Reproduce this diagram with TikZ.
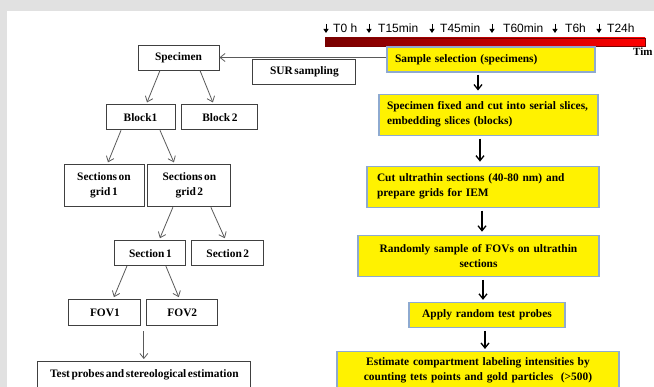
\documentclass[tikz,border=0pt]{standalone}
\usepackage{fontspec}
\setmainfont{Liberation Serif}[WordSpace=0.55]
\newfontfamily\labelfont{Liberation Sans}
\usetikzlibrary{arrows.meta,positioning,calc}
\definecolor{bggray}{HTML}{E1E1E1}
\definecolor{boxgray}{HTML}{404040}
\definecolor{linegray}{HTML}{5A5A5A}
\definecolor{boxblue}{HTML}{8EAAD0}
\definecolor{darkbar}{HTML}{780000}
\tikzset{
  tbox/.style={draw=boxgray, fill=white, line width=0.9pt, minimum height=25pt, inner sep=2pt, align=center, font=\bfseries\fontsize{11.4}{15}\selectfont},
  ybox/.style={draw=boxblue, fill=yellow, line width=1.1pt, minimum height=25pt, inner xsep=8pt, inner ysep=2pt, font=\bfseries\fontsize{11.4}{15}\selectfont},
  tarr/.style={-{Straight Barb[length=5pt,width=8pt]}, draw=linegray, line width=0.8pt},
  karr/.style={-{Straight Barb[length=5pt,width=8pt]}, line width=1.3pt},
  tlabel/.style={font=\labelfont\fontsize{12}{12}\selectfont, anchor=base west, inner sep=0pt},
  tmark/.style={-{Triangle[length=4pt,width=5pt]}, line width=0.8pt},
}
\begin{document}
\begin{tikzpicture}[x=1pt, y=-1pt]
\useasboundingbox (0,0) rectangle (654,387);
\fill[bggray] (0,0) rectangle (654,387);
\fill[white] (7,11) rectangle (654,387);

% time line
\shade[left color=darkbar, right color=red] (325,38) rectangle (645,46);
\draw[darkbar, line width=0.4pt] (325,38) rectangle (645,46);
\node[tlabel] (t0) at (333,33) {T0 h};
\node[tlabel] (t15) at (378,33) {T15min};
\node[tlabel] (t45) at (440,33) {T45min};
\node[tlabel] (t60) at (503,33) {T60min};
\node[tlabel] (t6) at (565,33) {T6h};
\node[tlabel] (t24) at (607,33) {T24h};
\draw[tmark] ([xshift=-7pt,yshift=9pt]t0.base west) -- ([xshift=-7pt]t0.base west);
\draw[tmark] ([xshift=-9pt,yshift=9pt]t15.base west) -- ([xshift=-9pt]t15.base west);
\draw[tmark] ([xshift=-8pt,yshift=9pt]t45.base west) -- ([xshift=-8pt]t45.base west);
\draw[tmark] ([xshift=-11pt,yshift=9pt]t60.base west) -- ([xshift=-11pt]t60.base west);
\draw[tmark] ([xshift=-10pt,yshift=9pt]t6.base west) -- ([xshift=-10pt]t6.base west);
\draw[tmark] ([xshift=-8pt,yshift=9pt]t24.base west) -- ([xshift=-8pt]t24.base west);
\node[font=\bfseries\fontsize{11}{11}\selectfont, anchor=base west, inner sep=0pt] (timelbl) at (633,56) {Tim};

% sampling tree
\node[tbox, minimum width=81pt] (spec) at (178.5,57.5) {Specimen};
\node[tbox, minimum width=103pt, right=33pt of spec, yshift=-14pt] (sur) {SUR sampling};

\node[tbox, minimum width=69pt, below=34pt of spec, xshift=-38pt] (blk1) {Block1};
\node[tbox, minimum width=76pt, right=6pt of blk1] (blk2) {Block 2};

\node[tbox, minimum width=80pt, minimum height=42pt, below=34pt of blk1, xshift=-36.5pt] (grid1) {Sections on\\grid 1};
\node[tbox, minimum width=83pt, minimum height=42pt, right=3pt of grid1] (grid2) {Sections on\\grid 2};

\node[tbox, minimum width=71pt, below=33pt of grid2, xshift=-39pt] (sec1) {Section 1};
\node[tbox, minimum width=72pt, right=5pt of sec1] (sec2) {Section 2};

\node[tbox, minimum width=72pt, minimum height=26pt, below=33pt of sec1, xshift=-45.5pt] (fov1) {FOV1};
\node[tbox, minimum width=71pt, minimum height=26pt, right=5pt of fov1] (fov2) {FOV2};

\node[tbox, minimum width=213pt, minimum height=26pt, below=35pt of fov1, xshift=39.5pt] (test) {Test probes and stereological estimation};

% work flow
\node[ybox, text width=192pt, align=left] (sample) at (491,59.5) {Sample selection (specimens)};
\node[ybox, text width=203pt, inner xsep=8pt, minimum height=41pt, align=left, below=21pt of sample, xshift=-2.5pt] (fixed)
  {Specimen fixed and cut into serial slices,\\embedding slices (blocks)};
\node[ybox, text width=212pt, inner xsep=10pt, minimum height=41pt, align=left, below=30pt of fixed, xshift=-5.5pt] (cut)
  {Cut ultrathin sections (40-80 nm) and\\prepare grids for IEM};
\node[ybox, text width=225pt, minimum height=41pt, align=center, below=27pt of cut, xshift=-4.5pt] (random)
  {Randomly sample of FOVs on ultrathin\\sections};
\node[ybox, text width=140pt, align=center, below=25pt of random, xshift=8.5pt] (apply) {Apply random test probes};
\node[ybox, text width=266pt, minimum height=37pt, align=center, below=23pt of apply, xshift=-9pt] (estimate)
  {Estimate compartment labeling intensities by\\counting tets points and gold particles \ (>500)};

\coordinate (fovs) at ($(fov1.south east)!0.5!(fov2.south west)+(0pt,-5pt)$);

\draw[tarr] (spec.east -| sample.west) -- (spec.east);
\draw[tarr] ([xshift=-18.5pt]spec.south) -- ([xshift=6.5pt,yshift=2pt]blk1.north);
\draw[tarr] ([xshift=21.5pt]spec.south) -- ([xshift=-7pt,yshift=2pt]blk2.north);
\draw[tarr] ([xshift=-19.5pt]blk1.south) -- ([xshift=4pt,yshift=2pt]grid1.north);
\draw[tarr] ([xshift=19.5pt]blk1.south) -- ([xshift=-15.5pt,yshift=2pt]grid2.north);
\draw[tarr] ([xshift=-16.5pt]grid2.south) -- ([xshift=9.5pt,yshift=2pt]sec1.north);
\draw[tarr] ([xshift=21.5pt]grid2.south) -- ([xshift=-3pt,yshift=2pt]sec2.north);
\draw[tarr] ([xshift=-23.5pt]sec1.south) -- ([xshift=9pt,yshift=2pt]fov1.north);
\draw[tarr] ([xshift=15.5pt]sec1.south) -- ([xshift=-3.5pt,yshift=2pt]fov2.north);
\draw[tarr, shorten >=2pt] (fovs) -- (fovs |- test.north);

\draw[karr] ([xshift=-13pt,yshift=-2pt]sample.south) -- ([xshift=-10.5pt,yshift=3pt]fixed.north);
\draw[karr] ([xshift=-8.5pt,yshift=-3pt]fixed.south) -- ([xshift=-3pt,yshift=4pt]cut.north);
\draw[karr] ([xshift=-1pt,yshift=-3pt]cut.south) -- ([xshift=3.5pt,yshift=3pt]random.north);
\draw[karr] ([xshift=4.5pt,yshift=-3pt]random.south) -- ([xshift=-4pt,yshift=2pt]apply.north);
\draw[karr] ([xshift=-2pt,yshift=-3pt]apply.south) -- ([xshift=7pt,yshift=2pt]estimate.north);

\end{tikzpicture}
\end{document}
